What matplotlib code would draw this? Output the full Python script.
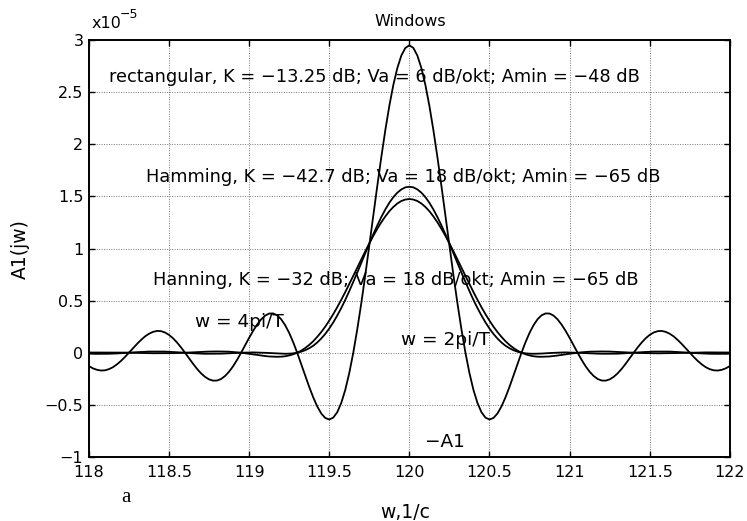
import numpy as np
import matplotlib
matplotlib.use("Agg")
import matplotlib.pyplot as plt
from matplotlib.ticker import FuncFormatter

# ---- data (values in units of 1e-5), w from 118 to 122 step 0.025 ----
w = np.linspace(118.0, 122.0, 161)

rect = [
    -0.128, -0.150, -0.164, -0.171, -0.169, -0.158, -0.139, -0.112, -0.079, -0.041,
    0.0, 0.042, 0.084, 0.122, 0.156, 0.182, 0.200, 0.209, 0.207, 0.194,
    0.171, 0.139, 0.098, 0.051, 0.0, -0.053, -0.106, -0.155, -0.198, -0.232,
    -0.256, -0.268, -0.267, -0.252, -0.223, -0.182, -0.130, -0.068, 0.0, 0.071,
    0.143, 0.210, 0.270, 0.320, 0.356, 0.376, 0.377, 0.359, 0.321, 0.264,
    0.190, 0.101, 0.0, -0.108, -0.219, -0.328, -0.428, -0.515, -0.583, -0.626,
    -0.641, -0.623, -0.571, -0.482, -0.357, -0.195, 0.0, 0.225, 0.475, 0.745,
    1.028, 1.316, 1.602, 1.878, 2.136, 2.369, 2.570, 2.732, 2.852, 2.925,
    2.950,
    2.925, 2.852, 2.732, 2.570, 2.369, 2.136, 1.878, 1.602, 1.316, 1.028,
    0.745, 0.475, 0.225, 0.0, -0.195, -0.357, -0.482, -0.571, -0.623, -0.641,
    -0.626, -0.583, -0.515, -0.428, -0.328, -0.219, -0.108, 0.0, 0.101, 0.190,
    0.264, 0.321, 0.359, 0.377, 0.376, 0.356, 0.320, 0.270, 0.210, 0.143,
    0.071, 0.0, -0.068, -0.130, -0.182, -0.223, -0.252, -0.267, -0.268, -0.256,
    -0.232, -0.198, -0.155, -0.106, -0.053, 0.0, 0.051, 0.098, 0.139, 0.171,
    0.194, 0.207, 0.209, 0.200, 0.182, 0.156, 0.122, 0.084, 0.042, 0.0,
    -0.041, -0.079, -0.112, -0.139, -0.158, -0.169, -0.171, -0.164, -0.150, -0.128]

hanning = [
    0.002, 0.002, 0.003, 0.003, 0.003, 0.003, 0.003, 0.002, 0.001, 0.001,
    0.0, -0.001, -0.002, -0.003, -0.004, -0.004, -0.005, -0.005, -0.006, -0.005,
    -0.005, -0.004, -0.003, -0.002, 0.0, 0.002, 0.004, 0.006, 0.008, 0.009,
    0.011, 0.012, 0.012, 0.012, 0.011, 0.010, 0.007, 0.004, 0.0, -0.005,
    -0.010, -0.016, -0.021, -0.027, -0.032, -0.036, -0.038, -0.039, -0.038, -0.034,
    -0.026, -0.015, 0.0, 0.020, 0.045, 0.075, 0.110, 0.152, 0.198, 0.250,
    0.308, 0.370, 0.437, 0.508, 0.582, 0.659, 0.738, 0.817, 0.896, 0.974,
    1.049, 1.122, 1.189, 1.252, 1.308, 1.358, 1.399, 1.432, 1.456, 1.470,
    1.475,
    1.470, 1.456, 1.432, 1.399, 1.358, 1.308, 1.252, 1.189, 1.122, 1.049,
    0.974, 0.896, 0.817, 0.738, 0.659, 0.582, 0.508, 0.437, 0.370, 0.308,
    0.250, 0.198, 0.152, 0.110, 0.075, 0.045, 0.020, 0.0, -0.015, -0.026,
    -0.034, -0.038, -0.039, -0.038, -0.036, -0.032, -0.027, -0.021, -0.016, -0.010,
    -0.005, 0.0, 0.004, 0.007, 0.010, 0.011, 0.012, 0.012, 0.012, 0.011,
    0.009, 0.008, 0.006, 0.004, 0.002, 0.0, -0.002, -0.003, -0.004, -0.005,
    -0.005, -0.006, -0.005, -0.005, -0.004, -0.004, -0.003, -0.002, -0.001, 0.0,
    0.001, 0.001, 0.002, 0.003, 0.003, 0.003, 0.003, 0.003, 0.002, 0.002]

hamming = [
    -0.008, -0.010, -0.011, -0.011, -0.011, -0.010, -0.009, -0.007, -0.005, -0.003,
    0.0, 0.003, 0.005, 0.007, 0.009, 0.011, 0.011, 0.012, 0.011, 0.011,
    0.009, 0.007, 0.005, 0.003, 0.0, -0.003, -0.005, -0.007, -0.009, -0.010,
    -0.010, -0.010, -0.010, -0.009, -0.007, -0.006, -0.004, -0.002, 0.0, 0.001,
    0.002, 0.003, 0.002, 0.001, -0.001, -0.003, -0.005, -0.008, -0.009, -0.010,
    -0.009, -0.006, 0.0, 0.010, 0.024, 0.043, 0.067, 0.098, 0.136, 0.180,
    0.232, 0.291, 0.357, 0.429, 0.507, 0.591, 0.679, 0.769, 0.862, 0.955,
    1.048, 1.137, 1.222, 1.302, 1.375, 1.439, 1.493, 1.536, 1.567, 1.587,
    1.593,
    1.587, 1.567, 1.536, 1.493, 1.439, 1.375, 1.302, 1.222, 1.137, 1.048,
    0.955, 0.862, 0.769, 0.679, 0.591, 0.507, 0.429, 0.357, 0.291, 0.232,
    0.180, 0.136, 0.098, 0.067, 0.043, 0.024, 0.010, 0.0, -0.006, -0.009,
    -0.010, -0.009, -0.008, -0.005, -0.003, -0.001, 0.001, 0.002, 0.003, 0.002,
    0.001, 0.0, -0.002, -0.004, -0.006, -0.007, -0.009, -0.010, -0.010, -0.010,
    -0.010, -0.009, -0.007, -0.005, -0.003, 0.0, 0.003, 0.005, 0.007, 0.009,
    0.011, 0.011, 0.012, 0.011, 0.011, 0.009, 0.007, 0.005, 0.003, 0.0,
    -0.003, -0.005, -0.007, -0.009, -0.010, -0.011, -0.011, -0.011, -0.010, -0.008]

xticks = [118, 118.5, 119, 119.5, 120, 120.5, 121, 121.5, 122]
yticks = [-1, -0.5, 0, 0.5, 1, 1.5, 2, 2.5, 3]

label_rect = "rectangular, K = \u221213.25 dB; Va = 6 dB/okt; Amin = \u221248 dB"
label_hamm = "Hamming, K = \u221242.7 dB; Va = 18 dB/okt; Amin = \u221265 dB"
label_hann = "Hanning, K = \u221232 dB; Va = 18 dB/okt; Amin = \u221265 dB"

# ---- plotting ----
plt.rcParams['font.family'] = ['DejaVu Sans']

fig = plt.figure(figsize=(7.47, 5.21), dpi=100)
ax = fig.add_axes([0.119, 0.123, 0.858, 0.800])

lw = 1.3
ax.plot(w, rect, color='black', lw=lw)
ax.plot(w, hamming, color='black', lw=lw)
ax.plot(w, hanning, color='black', lw=lw)

ax.set_xlim(118, 122)
ax.set_ylim(-1, 3)
ax.set_xticks(xticks)
ax.set_yticks(yticks)
fmt = FuncFormatter(lambda v, p: ('%g' % v).replace('-', '\u2212'))
ax.xaxis.set_major_formatter(fmt)
ax.yaxis.set_major_formatter(fmt)
ax.tick_params(direction='in', length=4, width=1, labelsize=11.5,
               top=True, right=True)
ax.tick_params(axis='x', pad=6)
ax.tick_params(axis='y', pad=4)
for s in ax.spines.values():
    s.set_linewidth(1.4)
ax.grid(True, color='#777777', linestyle=(0, (1, 1.5)), linewidth=0.7)

fs = 12.8
fs2 = 13.3
ax.text(118.125, 2.65, label_rect, fontsize=fs, va='center', ha='left')
ax.text(118.356, 1.69, label_hamm, fontsize=fs, va='center', ha='left')
ax.text(118.40, 0.70, label_hann, fontsize=fs, va='center', ha='left')
ax.text(118.66, 0.29, "w = 4pi/T", fontsize=fs2, va='center', ha='left')
ax.text(119.95, 0.125, "w = 2pi/T", fontsize=fs2, va='center', ha='left')
ax.text(120.10, -0.86, "\u2212A1", fontsize=fs2, va='center', ha='left')

fig.text(410 / 747, 1 - 21 / 521, "Windows", fontsize=11.5, ha='center', va='center')
fig.text(92 / 747, 1 - 23 / 521, "x10", fontsize=11.5, ha='left', va='center')
fig.text(120 / 747, 1 - 15 / 521, "\u22125", fontsize=9, ha='left', va='center')
fig.text(405 / 747, 1 - 512 / 521, "w,1/c", fontsize=13.5, ha='center', va='center')
fig.text(20 / 747, 1 - 249 / 521, "A1(jw)", fontsize=13.5, ha='center', va='center', rotation=90)
fig.text(126 / 747, 1 - 498 / 521, "a", fontsize=15, ha='center', va='center', family='Liberation Serif')

fig.savefig("out.png", dpi=100)
